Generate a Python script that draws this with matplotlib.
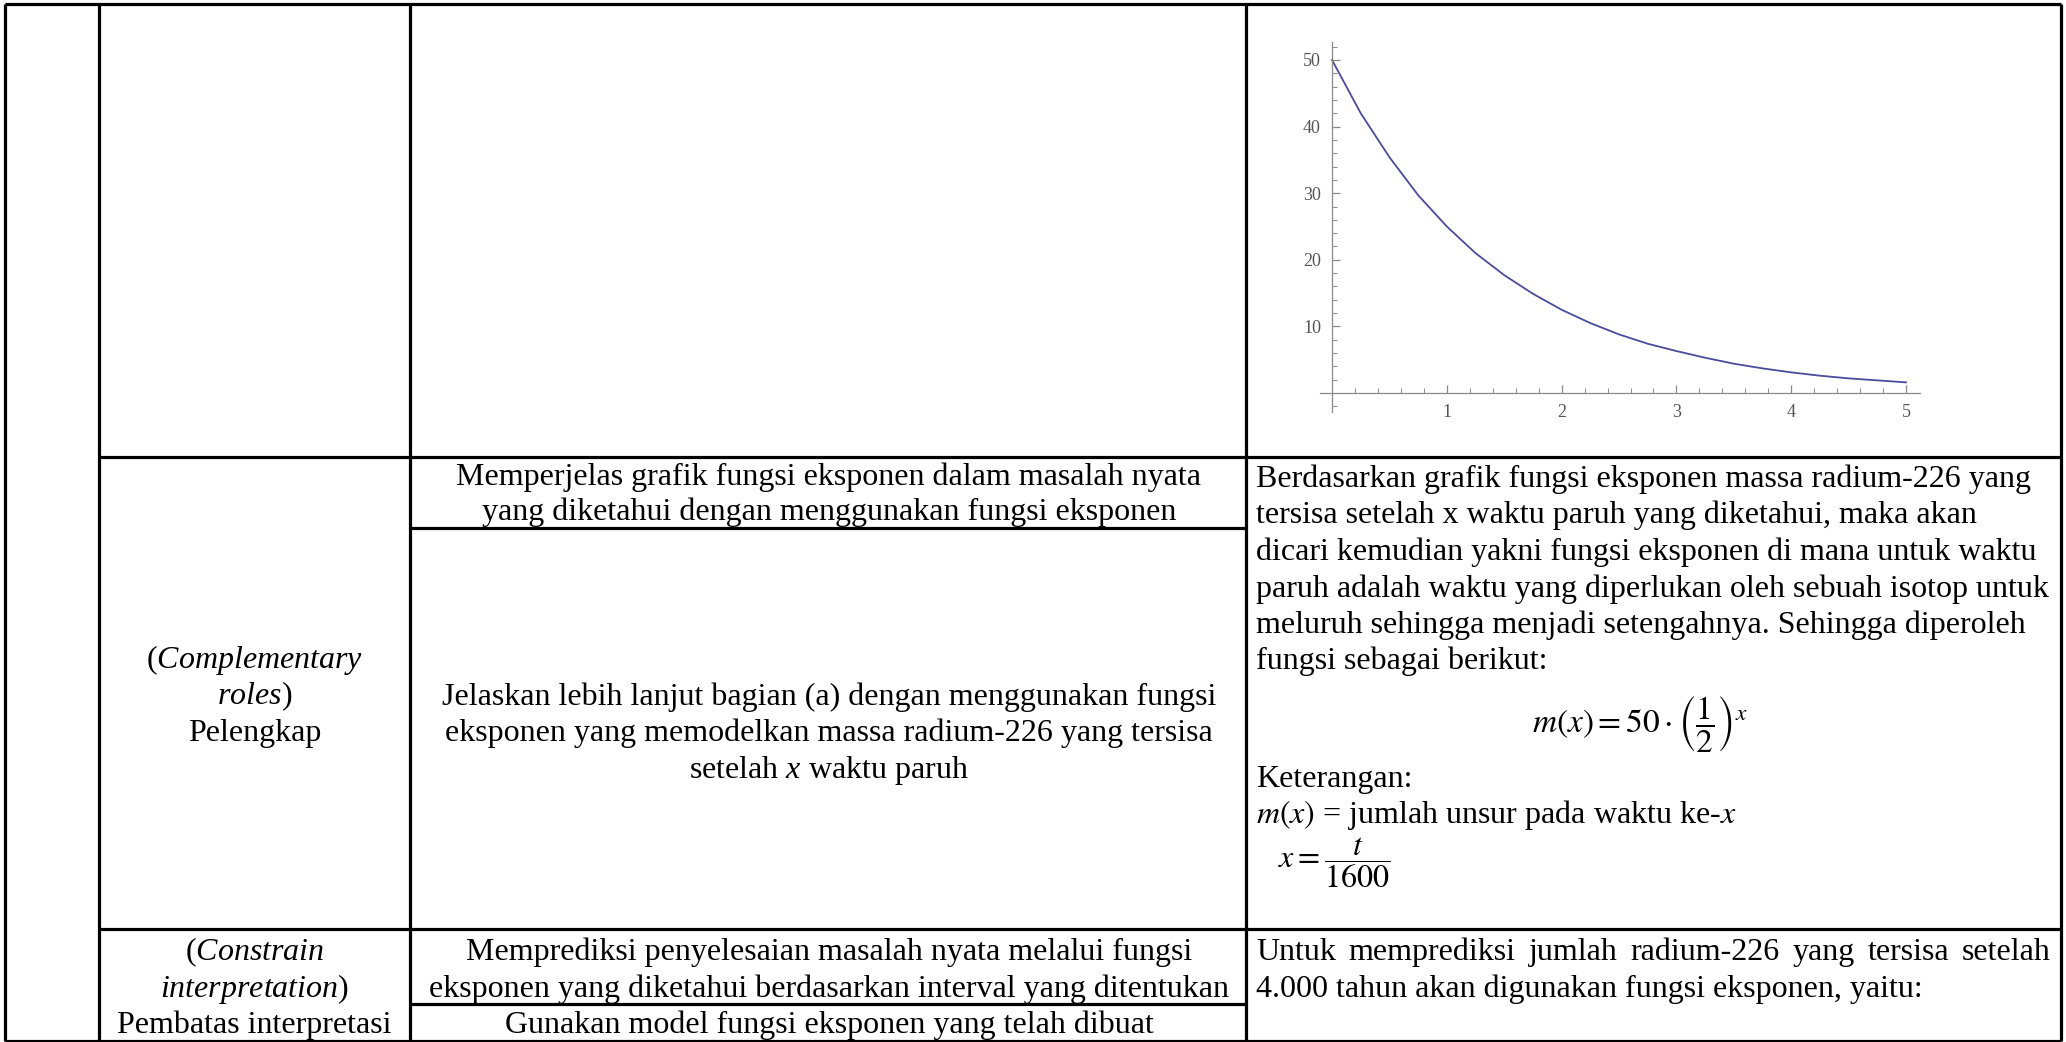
import matplotlib
matplotlib.use('Agg')
import matplotlib.pyplot as plt
from matplotlib.ticker import MultipleLocator, FixedLocator

plt.rcParams['font.family'] = ['Liberation Serif', 'DejaVu Serif']
plt.rcParams['mathtext.fontset'] = 'custom'
plt.rcParams['mathtext.rm'] = 'Liberation Serif'
plt.rcParams['mathtext.it'] = 'Liberation Serif:italic'

# values (mass left after x half-lives)
half_lives = [0, 0.25, 0.5, 0.75, 1, 1.25, 1.5, 1.75, 2, 2.25, 2.5,
              2.75, 3, 3.25, 3.5, 3.75, 4, 4.25, 4.5, 4.75, 5]
mass_left = [50, 42.0, 35.4, 29.7, 25.0, 21.0, 17.7, 14.9, 12.5, 10.5, 8.8,
             7.4, 6.3, 5.3, 4.4, 3.7, 3.1, 2.6, 2.2, 1.9, 1.6]
x_ticks = [1, 2, 3, 4, 5]
y_ticks = [10, 20, 30, 40, 50]

# table text
col2_row2 = [r'($\mathit{Complementary}$', r'$\mathit{roles}$)', 'Pelengkap']
col2_row3 = [r'($\mathit{Constrain}$', r'$\mathit{interpretation}$)', 'Pembatas interpretasi']
mid_row2a = ['Memperjelas grafik fungsi eksponen dalam masalah nyata',
             'yang diketahui dengan menggunakan fungsi eksponen']
mid_row2b = ['Jelaskan lebih lanjut bagian (a) dengan menggunakan fungsi',
             'eksponen yang memodelkan massa radium-226 yang tersisa',
             r'setelah $\mathit{x}$ waktu paruh']
mid_row3a = ['Memprediksi penyelesaian masalah nyata melalui fungsi',
             'eksponen yang diketahui berdasarkan interval yang ditentukan']
mid_row3b = ['Gunakan model fungsi eksponen yang telah dibuat']
right_row2 = ['Berdasarkan grafik fungsi eksponen massa radium-226 yang',
              'tersisa setelah x waktu paruh yang diketahui, maka akan',
              'dicari kemudian yakni fungsi eksponen di mana untuk waktu',
              'paruh adalah waktu yang diperlukan oleh sebuah isotop untuk',
              'meluruh sehingga menjadi setengahnya. Sehingga diperoleh',
              'fungsi sebagai berikut:']
right_row3 = ['Untuk memprediksi jumlah radium-226 yang tersisa setelah',
              '4.000 tahun akan digunakan fungsi eksponen, yaitu:']

W, H = 2066, 1042
FS = 23
LS = 36.5

fig = plt.figure(figsize=(W / 100, H / 100), dpi=100)
bg = fig.add_axes([0, 0, 1, 1])
bg.set_xlim(0, W)
bg.set_ylim(H, 0)
bg.axis('off')

cols = [5, 99, 410, 1246, 2061]
lw = 2.3
bg.hlines([4, 1041], cols[0], cols[-1], color='black', lw=lw)
bg.vlines(cols, 4, 1041, color='black', lw=lw)
bg.hlines([457, 929], cols[1], cols[-1], color='black', lw=lw)
bg.hlines([528, 1004], cols[2], cols[3], color='black', lw=lw)

c2 = (cols[1] + cols[2]) / 2
cm = (cols[2] + cols[3]) / 2 + 1
xr = 1256


def block(lines, x, y0, ha='center', step=LS):
    for i, s in enumerate(lines):
        bg.text(x, y0 + i * step, s, fontsize=FS, ha=ha, va='baseline')


block(col2_row2, c2, 668)
block(col2_row3, c2, 960)
block(mid_row2a, cm, 485, step=35)
block(mid_row2b, cm, 705)
block(mid_row3a, cm, 960)
block(mid_row3b, cm, 1033)
block(right_row2, xr, 487, ha='left')

bg.text(1640, 724, r'$m(x)=50\cdot\left(\dfrac{1}{2}\right)^{x}$', fontsize=FS + 1,
        ha='center', va='center', math_fontfamily='stix')
bg.text(xr, 787, 'Keterangan:', fontsize=FS, va='baseline')
bg.text(xr, 823, r'$m(x)$ = jumlah unsur pada waktu ke-$x$', fontsize=FS,
        va='baseline', math_fontfamily='stix')
bg.text(xr + 22, 863, r'$x=\dfrac{t}{1600}$', fontsize=FS, va='center',
        math_fontfamily='stix')

# justified first line of the last row
fig.canvas.draw()
rend = fig.canvas.get_renderer()
words = right_row3[0].split()
arts = [bg.text(0, 960, w, fontsize=FS, va='baseline') for w in words]
widths = [a.get_window_extent(rend).width for a in arts]
gap = (2051 - xr - sum(widths)) / (len(words) - 1)
pos = xr
for a, w in zip(arts, widths):
    a.set_x(pos)
    pos += w + gap
bg.text(xr, 997, right_row3[1], fontsize=FS, va='baseline')

# embedded graph
ax = fig.add_axes([1320 / W, 1 - 412 / H, 600 / W, 370 / H])
ax.patch.set_alpha(0)
ax.plot(half_lives, mass_left, color='#4b4b9d', lw=1.3)
ax.set_xlim(-0.105, 5.122)
ax.set_ylim(-2.85, 52.7)
for s in ['top', 'right']:
    ax.spines[s].set_visible(False)
for s in ['left', 'bottom']:
    ax.spines[s].set_position(('data', 0))
    ax.spines[s].set_color('#8a8a8a')
    ax.spines[s].set_linewidth(0.9)
ax.xaxis.set_major_locator(FixedLocator(x_ticks))
ax.yaxis.set_major_locator(FixedLocator(y_ticks))
ax.xaxis.set_minor_locator(MultipleLocator(0.2))
ax.yaxis.set_minor_locator(MultipleLocator(2))
ax.tick_params(which='both', direction='in', color='#8a8a8a', labelcolor='#555555',
               labelsize=13)
ax.tick_params(which='major', length=6, width=0.9, pad=8)
ax.tick_params(which='minor', length=3.5, width=0.7)
ax.set_xticklabels([str(v) for v in x_ticks])
ax.set_yticklabels([str(v) for v in y_ticks])

fig.savefig('out.png', dpi=100)
